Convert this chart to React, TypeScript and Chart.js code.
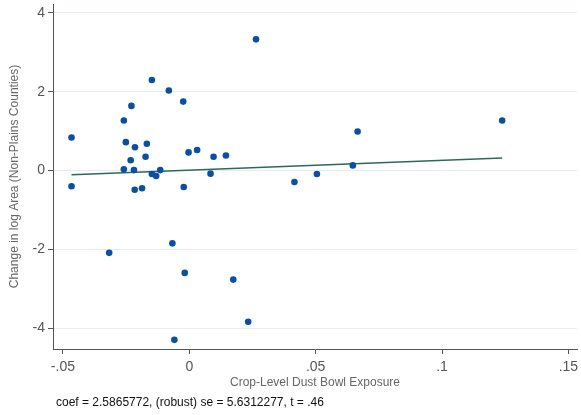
import React, { useEffect, useRef } from "react";
import { Chart, registerables } from "chart.js";

Chart.register(...registerables);

const exposureX = [
  -0.0466, -0.0466, -0.0259, -0.0229, -0.0148, -0.0081, -0.0024, -0.0251, -0.0215,
  -0.0168, -0.0173, -0.0232, -0.0259, -0.0219, -0.0115, -0.0148, -0.0131, -0.0216,
  -0.0187, -0.0022, -0.0003, 0.0031, 0.0096, 0.0145, 0.0084, 0.0264, 0.0416,
  0.0505, 0.0647, 0.0666, 0.1238, -0.0317, -0.0067, -0.0018, 0.0174, 0.0233, -0.0059,
];
const changeY = [
  0.84, -0.4, 1.27, 1.64, 2.3, 2.03, 1.75, 0.72, 0.59,
  0.68, 0.35, 0.26, 0.03, 0.01, 0.01, -0.09, -0.14, -0.49,
  -0.45, -0.42, 0.46, 0.52, 0.35, 0.38, -0.08, 3.33, -0.29,
  -0.09, 0.13, 0.99, 1.27, -2.09, -1.85, -2.6, -2.77, -3.84, -4.3,
];
const fitX = [-0.0466, 0.1238];
const fitY = [-0.11, 0.32];

const xTicks = [-0.05, 0, 0.05, 0.1, 0.15];
const xTickLabels = ["-.05", "0", ".05", ".1", ".15"];
const yTicks = [-4, -2, 0, 2, 4];
const yTickLabels = ["-4", "-2", "0", "2", "4"];

const xTitle = "Crop-Level Dust Bowl Exposure";
const yTitle = "Change in log Area (Non-Plains Counties)";
const caption = "coef = 2.5865772, (robust) se = 5.6312277, t = .46";

const FONT = "'Liberation Sans', Arial, Helvetica, sans-serif";

export default function App() {
  const ref = useRef<HTMLCanvasElement | null>(null);

  useEffect(() => {
    document.body.style.margin = "0";
    const canvas = ref.current;
    if (!canvas) return;

    const captionPlugin = {
      id: "captionPlugin",
      afterDraw(chart: any) {
        const ctx = chart.ctx;
        ctx.save();
        ctx.font = `12px ${FONT}`;
        ctx.fillStyle = "#111111";
        ctx.textAlign = "left";
        ctx.textBaseline = "middle";
        ctx.fillText(caption, 56, 403);
        ctx.restore();
      },
    };

    const chart = new Chart(canvas, {
      type: "scatter",
      data: {
        datasets: [
          {
            type: "scatter",
            data: exposureX.map((x, i) => ({ x, y: changeY[i] })),
            backgroundColor: "#0b4fa0",
            borderColor: "#0b4fa0",
            borderWidth: 0,
            pointRadius: 3.3,
            order: 1,
          },
          {
            type: "line",
            data: fitX.map((x, i) => ({ x, y: fitY[i] })),
            borderColor: "#2b6a5b",
            borderWidth: 1.5,
            pointRadius: 0,
            fill: false,
            order: 2,
          } as any,
        ],
      },
      options: {
        responsive: false,
        animation: false,
        layout: { padding: { top: 3, right: 0, bottom: 0, left: 0 } },
        plugins: {
          legend: { display: false },
          tooltip: { enabled: false },
          title: { display: false },
        },
        scales: {
          x: {
            type: "linear",
            min: -0.05393,
            max: 0.15341,
            afterBuildTicks: (scale: any) => {
              scale.ticks = xTicks.map((v) => ({ value: v }));
            },
            afterFit: (scale: any) => {
              scale.height = 66;
              scale.paddingLeft = 0;
              scale.paddingRight = 0;
            },
            ticks: {
              autoSkip: false,
              maxRotation: 0,
              padding: 5,
              color: "#555555",
              font: { family: FONT, size: 14 },
              callback: (v: any) => {
                const i = xTicks.findIndex((t) => Math.abs(t - Number(v)) < 1e-9);
                return i >= 0 ? xTickLabels[i] : "";
              },
            },
            grid: {
              display: true,
              drawOnChartArea: false,
              drawTicks: true,
              tickLength: 5,
              color: "#555555",
              tickColor: "#555555",
            },
            border: { display: true, color: "#555555", width: 1 },
            title: {
              display: true,
              text: xTitle,
              color: "#666666",
              font: { family: FONT, size: 12 },
              padding: { top: 0, bottom: 25 },
            },
          },
          y: {
            type: "linear",
            min: -4.532,
            max: 4.228,
            afterBuildTicks: (scale: any) => {
              scale.ticks = yTicks.map((v) => ({ value: v }));
            },
            afterFit: (scale: any) => {
              scale.width = 53;
              scale.paddingTop = 0;
              scale.paddingBottom = 0;
            },
            ticks: {
              autoSkip: false,
              padding: 3,
              color: "#555555",
              font: { family: FONT, size: 14 },
              callback: (v: any) => {
                const i = yTicks.findIndex((t) => Math.abs(t - Number(v)) < 1e-9);
                return i >= 0 ? yTickLabels[i] : "";
              },
            },
            grid: {
              display: true,
              drawOnChartArea: true,
              drawTicks: true,
              tickLength: 5,
              color: "#e4eef0",
              tickColor: "#555555",
              lineWidth: 1,
            },
            border: { display: true, color: "#555555", width: 1 },
            title: {
              display: true,
              text: yTitle,
              color: "#666666",
              font: { family: FONT, size: 12 },
              padding: { top: 7, bottom: 0 },
            },
          },
        },
      },
      plugins: [captionPlugin],
    });

    return () => chart.destroy();
  }, []);

  return (
    <div style={{ width: 581, height: 415, position: "relative", background: "#ffffff" }}>
      <canvas ref={ref} width={581} height={415} style={{ display: "block" }} />
    </div>
  );
}
